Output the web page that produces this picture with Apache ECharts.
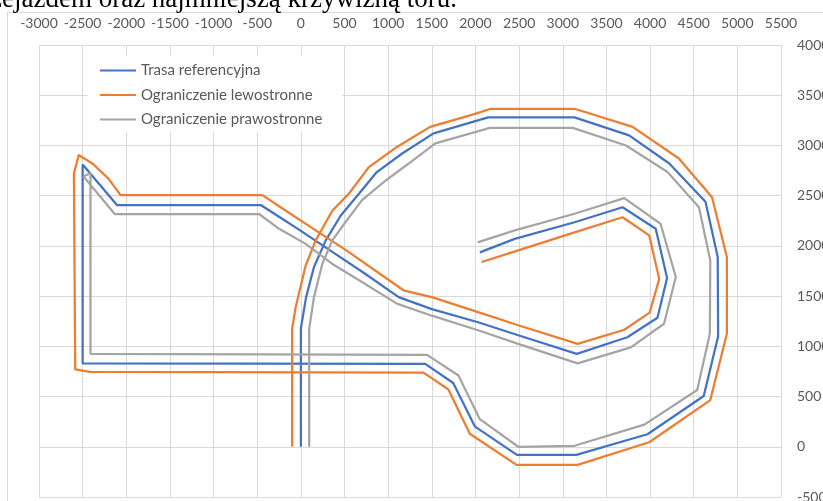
<!DOCTYPE html>
<html>
<head>
<meta charset="utf-8">
<script src="https://cdn.jsdelivr.net/npm/echarts@6/dist/echarts.min.js"></script>
<style>
  html, body { margin: 0; padding: 0; background: #fff; }
  #chart { width: 823px; height: 501px; }
</style>
</head>
<body>
<div id="chart"></div>
<script>
// Axis ranges (tick labels are generated from these)
const X_MIN = -3000, X_MAX = 5500, X_STEP = 500;
const Y_MIN = -500, Y_MAX = 4000, Y_STEP = 500;

// Series names
const seriesNames = ['Trasa referencyjna', 'Ograniczenie lewostronne', 'Ograniczenie prawostronne'];

// Reference route [x, y]
const trasaReferencyjna = [
  [0, 0], [0, 1180], [60, 1490], [150, 1790], [285, 2055], [455, 2300], [665, 2520],
  [870, 2735], [1160, 2920], [1520, 3120], [2145, 3280], [3135, 3280], [3760, 3100],
  [4220, 2820], [4635, 2440], [4775, 1890], [4780, 1100], [4615, 505], [3970, 125],
  [3155, -80], [2475, -80], [1995, 200], [1745, 635], [1425, 825], [-2500, 830],
  [-2500, 2810], [-2105, 2405], [-455, 2405], [-250, 2290], [0, 2150], [360, 1940],
  [740, 1720], [1120, 1490], [1500, 1370], [2030, 1240], [2490, 1110], [3160, 925],
  [3740, 1090], [4085, 1285], [4195, 1680], [4065, 2170], [3685, 2385], [3135, 2235],
  [2450, 2070], [2050, 1935]
];

// Left-hand boundary [x, y]
const ograniczenieLewostronne = [
  [-100, 0], [-100, 1175], [-60, 1390], [55, 1805], [170, 2055], [360, 2350], [550, 2520],
  [780, 2785], [1100, 2985], [1480, 3185], [1995, 3315], [2175, 3365], [3135, 3365],
  [3800, 3185], [4330, 2870], [4710, 2485], [4880, 1890], [4880, 1125], [4690, 465],
  [3990, 45], [3170, -180], [2470, -180], [1935, 130], [1690, 570], [1405, 738],
  [-2415, 745], [-2585, 770], [-2600, 2720], [-2545, 2905], [-2380, 2815], [-2205, 2670],
  [-2065, 2505], [-440, 2505], [-250, 2395], [205, 2135], [512, 1960], [1175, 1558],
  [1500, 1490], [2030, 1340], [2490, 1210], [3170, 1025], [3705, 1165], [3995, 1335],
  [4105, 1670], [3990, 2105], [3685, 2285], [3135, 2135], [2490, 1955], [2070, 1840]
];

// Right-hand boundary [x, y]
const ograniczeniePrawostronne = [
  [95, 0], [95, 1175], [150, 1490], [245, 1820], [360, 2055], [510, 2235], [700, 2455],
  [970, 2650], [1235, 2820], [1540, 3020], [2165, 3175], [3115, 3175], [3725, 3000],
  [4200, 2735], [4560, 2385], [4690, 1855], [4685, 1125], [4540, 565], [3935, 220],
  [3135, 10], [2490, 0], [2050, 275], [1805, 710], [1445, 915], [-2410, 925],
  [-2410, 2725], [-2490, 2690], [-2130, 2315], [-475, 2315], [-250, 2170], [55, 2020],
  [360, 1820], [700, 1640], [1100, 1425], [1500, 1305], [2030, 1160], [2490, 1025],
  [3170, 830], [3780, 990], [4160, 1225], [4295, 1690], [4120, 2220], [3705, 2475],
  [3135, 2320], [2450, 2155], [2025, 2035]
];

const seriesData = [trasaReferencyjna, ograniczenieLewostronne, ograniczeniePrawostronne];
const seriesColors = ['#4472C4', '#ED7D31', '#A5A5A5'];

const labelFont = { fontFamily: 'Lato', fontSize: 14, color: '#595959' };
const gridLine = { show: true, lineStyle: { color: '#d9d9d9', width: 1 } };

const chart = echarts.init(document.getElementById('chart'), null, { renderer: 'canvas' });

chart.setOption({
  backgroundColor: '#ffffff',
  animation: false,
  graphic: [
    {
      type: 'rect',
      z: -10,
      shape: { x: 7.5, y: 12.5, width: 900, height: 600 },
      style: { fill: null, stroke: '#d9d9d9', lineWidth: 1 }
    },
    {
      type: 'text',
      x: 457,
      y: 0,
      style: {
        text: 'przejazdem oraz najmniejszą krzywizną toru.',
        font: '27px "Liberation Serif"',
        fill: '#000000',
        align: 'right',
        verticalAlign: 'middle'
      }
    }
  ],
  grid: { left: 39, right: 42, top: 45, bottom: 4, containLabel: false, outerBoundsMode: 'none' },
  xAxis: {
    type: 'value',
    position: 'top',
    min: X_MIN, max: X_MAX, interval: X_STEP,
    axisLine: { show: false },
    axisTick: { show: false },
    axisLabel: Object.assign({ margin: 15, formatter: v => String(v) }, labelFont),
    splitLine: gridLine
  },
  yAxis: {
    type: 'value',
    position: 'right',
    min: Y_MIN, max: Y_MAX, interval: Y_STEP,
    axisLine: { show: false },
    axisTick: { show: false },
    axisLabel: Object.assign({ margin: 16, formatter: v => String(v) }, labelFont),
    splitLine: gridLine
  },
  legend: {
    orient: 'vertical',
    left: 88,
    top: 56,
    padding: [7, 20, 5, 11],
    backgroundColor: '#ffffff',
    itemWidth: 36,
    itemHeight: 14,
    itemGap: 9.5,
    itemStyle: { opacity: 0, borderWidth: 0 },
    textStyle: { fontFamily: 'Lato', fontSize: 15, color: '#595959' },
    data: seriesNames
  },
  series: seriesNames.map((name, i) => ({
    name: name,
    type: 'line',
    data: seriesData[i],
    showSymbol: false,
    symbol: 'none',
    smooth: false,
    color: seriesColors[i],
    lineStyle: { width: 2.25, color: seriesColors[i] }
  }))
});
</script>
</body>
</html>
